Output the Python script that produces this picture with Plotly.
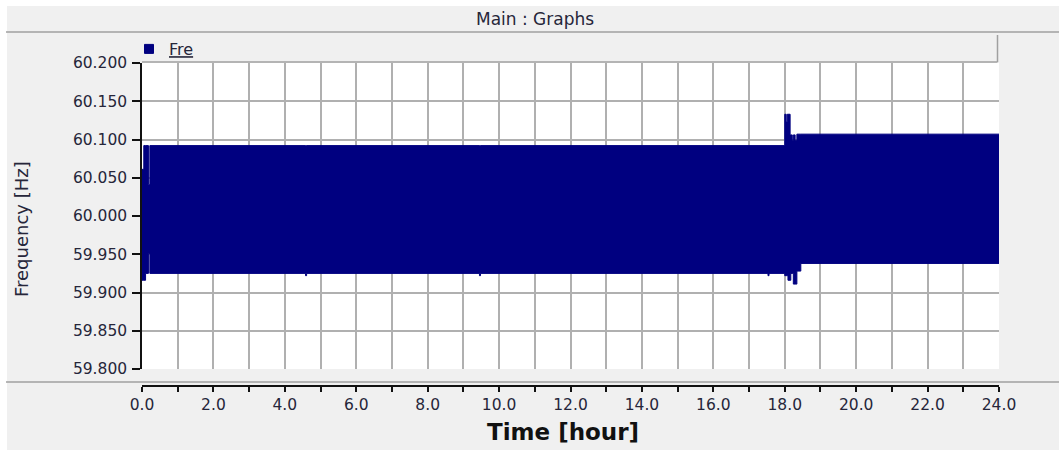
import plotly.graph_objects as go

# ---- data ----
time_h = [0.00, 0.05, 0.10, 0.18, 0.22, 4.58, 4.61, 9.45, 9.48, 17.53, 17.56,
          18.00, 18.04, 18.07, 18.09, 18.15, 18.17, 18.21, 18.24, 18.29, 18.34,
          18.45, 24.00]
freq_upper = [60.061, 60.092, 60.092, 60.041, 60.092, 60.092, 60.092, 60.092, 60.092, 60.092, 60.092,
              60.133, 60.123, 60.133, 60.133, 60.106, 60.106, 60.099, 60.106, 60.099, 60.107,
              60.107, 60.107]
freq_lower = [59.916, 59.916, 59.925, 59.951, 59.925, 59.922, 59.925, 59.922, 59.925, 59.922, 59.925,
              59.922, 59.922, 59.922, 59.916, 59.916, 59.925, 59.925, 59.911, 59.911, 59.928,
              59.938, 59.938]

x_tick_vals = [0, 2, 4, 6, 8, 10, 12, 14, 16, 18, 20, 22, 24]
x_tick_text = ["0.0", "2.0", "4.0", "6.0", "8.0", "10.0", "12.0", "14.0", "16.0",
               "18.0", "20.0", "22.0", "24.0"]
y_tick_vals = [59.80, 59.85, 59.90, 59.95, 60.00, 60.05, 60.10, 60.15, 60.20]
y_tick_text = ["59.800", "59.850", "59.900", "59.950", "60.000", "60.050",
               "60.100", "60.150", "60.200"]

series_name = "Fre"
window_title = "Main : Graphs"
x_title = "Time [hour]"
y_title = "Frequency [Hz]"

# ---- pixel geometry helpers ----
W, H = 1059, 450
L, R, T, B = 142, 60, 35, 50
PW = W - L - R
PH = H - T - B


def px(xp):
    return (xp - L) / PW


def py(yp):
    return (H - B - yp) / PH


NAVY = "#000080"
GRID = "#b0b0b0"
SEP = "#a0a0a0"
FONT = "DejaVu Sans"
TXT = "#26263a"

fig = go.Figure()

fig.add_trace(go.Scatter(
    x=time_h, y=freq_lower, mode="lines", line=dict(color=NAVY, width=1, shape="hv"),
    showlegend=False, hoverinfo="skip"))
fig.add_trace(go.Scatter(
    x=time_h, y=freq_upper, mode="lines", line=dict(color=NAVY, width=1, shape="hv"),
    fill="tonexty", fillcolor=NAVY, showlegend=False, name=series_name))
# legend entry
fig.add_trace(go.Scatter(
    x=[None], y=[None], mode="markers",
    marker=dict(symbol="square", size=9, color=NAVY, line=dict(color=NAVY, width=1)),
    name="<span style='text-decoration:underline'>" + series_name + "</span>",
    showlegend=True))
# carrier for the detached time axis
fig.add_trace(go.Scatter(x=[time_h[0]], y=[None], xaxis="x2", yaxis="y",
                         mode="lines", showlegend=False, hoverinfo="skip"))

shapes = [
    # white outer edges
    dict(type="rect", xref="paper", yref="paper", x0=px(0), x1=px(W), y0=py(0), y1=py(6),
         fillcolor="white", line=dict(width=0), layer="below"),
    dict(type="rect", xref="paper", yref="paper", x0=px(0), x1=px(7), y0=py(0), y1=py(H),
         fillcolor="white", line=dict(width=0), layer="below"),
    # separators
    dict(type="line", xref="paper", yref="paper", x0=px(6), x1=px(W), y0=py(32), y1=py(32),
         line=dict(color=SEP, width=1.5)),
    dict(type="line", xref="paper", yref="paper", x0=px(6), x1=px(W), y0=py(382), y1=py(382),
         line=dict(color=SEP, width=1.5)),
    # legend strip borders
    dict(type="line", xref="paper", yref="paper", x0=px(997.5), x1=px(997.5), y0=py(35), y1=py(62),
         line=dict(color=SEP, width=1.5)),
    dict(type="line", xref="paper", yref="paper", x0=px(142), x1=px(997.5), y0=py(62), y1=py(62),
         line=dict(color=SEP, width=1.5)),
]

annotations = [
    dict(text=window_title, xref="paper", yref="paper", x=px(535), y=py(19),
         xanchor="center", yanchor="middle", showarrow=False,
         font=dict(family=FONT, size=17, color=TXT)),
    dict(text=y_title, xref="paper", yref="paper", x=px(21), y=py(229),
         xanchor="center", yanchor="middle", textangle=-90, showarrow=False,
         font=dict(family=FONT, size=18, color=TXT)),
    dict(text="<b>" + x_title + "</b>", xref="paper", yref="paper", x=px(563), y=py(432),
         xanchor="center", yanchor="middle", showarrow=False,
         font=dict(family=FONT, size=23, color="#111111")),
]

fig.update_layout(
    width=W, height=H, autosize=False,
    margin=dict(l=L, r=R, t=T, b=B, pad=0),
    paper_bgcolor="#f0f0f0", plot_bgcolor="white",
    font=dict(family=FONT, size=15, color=TXT),
    showlegend=True,
    legend=dict(x=px(129), y=py(32), xanchor="left", yanchor="top",
                bgcolor="rgba(0,0,0,0)", borderwidth=0,
                font=dict(family=FONT, size=16, color=TXT)),
    xaxis=dict(range=[0, 24], dtick=1, tick0=0, showgrid=True, gridcolor=GRID, gridwidth=1.5,
               showticklabels=False, ticks="", showline=False, zeroline=False,
               fixedrange=True),
    xaxis2=dict(range=[0, 24], overlaying="x", anchor="free", position=py(386), side="bottom",
                tickmode="array", tickvals=x_tick_vals, ticktext=x_tick_text,
                ticks="outside", ticklen=5, tickwidth=1.5, tickcolor="#111111",
                showline=True, linecolor="#111111", linewidth=1.5,
                showgrid=False, zeroline=False,
                minor=dict(dtick=1, tick0=0, ticks="outside", ticklen=5, tickwidth=1.5,
                           tickcolor="#111111", showgrid=False),
                tickfont=dict(family=FONT, size=15.5, color=TXT), fixedrange=True),
    yaxis=dict(range=[59.8, 60.2], domain=[py(369), py(63)],
               tickmode="array", tickvals=y_tick_vals, ticktext=y_tick_text,
               showgrid=True, gridcolor=GRID, gridwidth=1.5,
               ticks="outside", ticklen=8, tickwidth=1.5, tickcolor="#111111",
               showline=True, linecolor="#111111", linewidth=1.5, zeroline=False,
               ticklabelstandoff=2,
               tickfont=dict(family=FONT, size=15.5, color=TXT), fixedrange=True),
    shapes=shapes,
    annotations=annotations,
)

fig.write_html(
    "out.html",
    config={"displayModeBar": False},
    post_script="document.body.style.margin='0';document.body.style.overflow='hidden';",
)
